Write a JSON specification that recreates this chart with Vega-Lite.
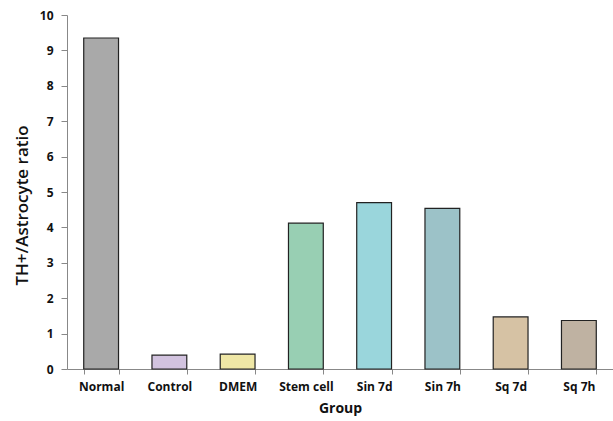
{
  "$schema": "https://vega.github.io/schema/vega-lite/v6.json",
  "width": 546,
  "height": 354,
  "autosize": "none",
  "padding": {"left": 67, "top": 15, "right": 0, "bottom": 52},
  "background": "white",
  "config": {"view": {"stroke": null}, "font": "Open Sans"},
  "data": {
    "values": [
      {"group": "Normal", "ratio": 9.35},
      {"group": "Control", "ratio": 0.39},
      {"group": "DMEM", "ratio": 0.42},
      {"group": "Stem cell", "ratio": 4.12},
      {"group": "Sin 7d", "ratio": 4.70},
      {"group": "Sin 7h", "ratio": 4.54},
      {"group": "Sq 7d", "ratio": 1.47},
      {"group": "Sq 7h", "ratio": 1.37}
    ]
  },
  "mark": {"type": "bar", "stroke": "#222", "strokeWidth": 1.2},
  "encoding": {
    "x": {
      "field": "group", "type": "nominal", "sort": null,
      "scale": {"paddingInner": 0.49, "paddingOuter": 0.245},
      "axis": {
        "title": "Group", "labelAngle": 0, "labelFontWeight": "bold",
        "labelFontSize": 12, "labelColor": "#111", "labelPadding": 7,
        "tickBand": "extent", "tickSize": 5, "tickColor": "#888", "domainColor": "#888",
        "titleFontSize": 14, "titleFontWeight": "bold", "titleColor": "#111", "titlePadding": 9
      }
    },
    "y": {
      "field": "ratio", "type": "quantitative",
      "scale": {"domain": [0, 10]},
      "axis": {
        "title": "TH+/Astrocyte ratio", "tickCount": 10, "grid": false,
        "labelFontWeight": "bold", "labelFontSize": 12, "labelColor": "#111", "labelPadding": 8,
        "tickSize": 6, "tickColor": "#888", "domainColor": "#888",
        "titleFontSize": 17, "titleFontWeight": 600, "titleColor": "#111", "titlePadding": 8,
        "titleY": 190
      }
    },
    "fill": {
      "field": "group", "type": "nominal", "sort": null, "legend": null,
      "scale": {
        "domain": ["Normal", "Control", "DMEM", "Stem cell", "Sin 7d", "Sin 7h", "Sq 7d", "Sq 7h"],
        "range": ["#a9a9a9", "#d2c3df", "#efe7a6", "#98cfb3", "#9ad6dc", "#9cc2c8", "#d6c2a4", "#bfb2a2"]
      }
    }
  }
}
